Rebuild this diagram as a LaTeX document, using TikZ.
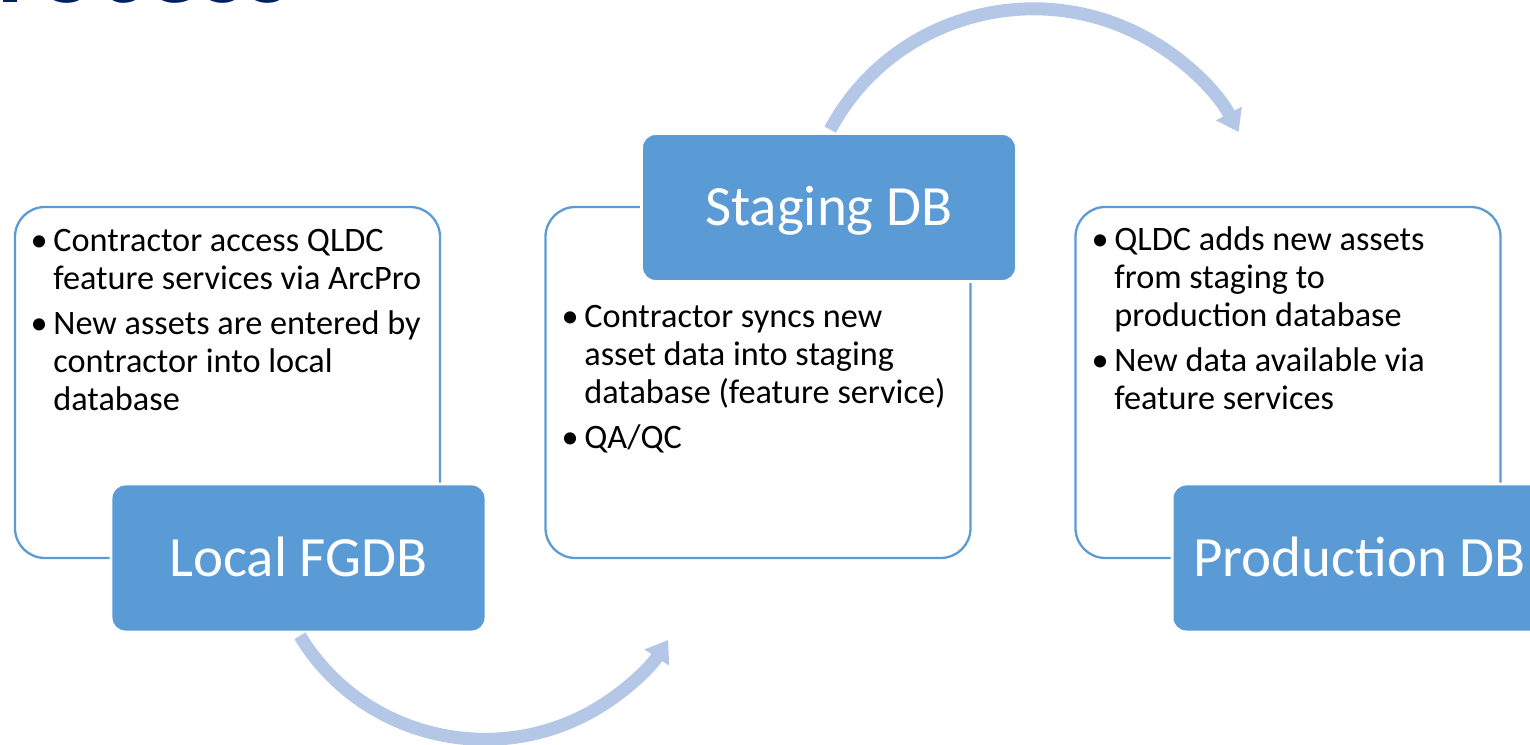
\documentclass[tikz,border=0pt]{standalone}
\usepackage{fontspec}
\setmainfont{Carlito}
\usetikzlibrary{arrows.meta}
\definecolor{boxblue}{HTML}{5B9BD5}
\definecolor{arrowblue}{HTML}{B4C7E7}
\definecolor{titlenavy}{HTML}{002060}
\newcommand{\bulmark}{\makebox[13pt][l]{\textbullet}}
\newcommand{\bulgap}{\hspace*{13pt}}
\tikzset{
    outerbox/.style = {draw = boxblue, line width = 1.3pt, rounded corners = 17pt,
        minimum width = 85mm, minimum height = 70.2mm},
    dbbox/.style = {fill = boxblue, draw = white, line width = 1.7pt, rounded corners = 8pt,
        minimum width = 75mm, minimum height = 29.6mm, text = white,
        text height = 7.4mm, text depth = 0pt, font = \fontsize{32.4}{38}\selectfont},
    textblock/.style = {anchor = north west, inner sep = 0pt, align = left,
        font = \fontsize{19.5}{21.6}\selectfont},
    flowarrow/.style = {draw = arrowblue, line width = 2.6mm,
        -{Triangle[width = 5.6mm, length = 4.2mm]}}
}
\begin{document}
\begin{tikzpicture}[x = 0.2mm, y = 0.2mm]
        \useasboundingbox (0, 0) rectangle (1530, 744);
        \clip (0, 0) rectangle (1530, 744);
        \node [anchor = base west, inner sep = 0pt, text = titlenavy,
            font = \fontsize{64.3}{70}\selectfont\bfseries] (title) at (-63, 741.5) {Process};
        \node [outerbox] (localbox) at (227.5, 361.5) {};
        \node [outerbox] (stagingbox) at (758, 361.5) {};
        \node [outerbox] (prodbox) at (1288, 361.5) {};
        \node [textblock] (localtext) at (30.2, 515) {%
            \bulmark Contractor access QLDC\\\bulgap feature services via ArcPro\\[4pt]%
            \bulmark New assets are entered by\\\bulgap contractor into local\\\bulgap database};
        \node [textblock] (stagingtext) at (561.2, 439) {%
            \bulmark Contractor syncs new\\\bulgap asset data into staging\\\bulgap database (feature service)\\[4pt]%
            \bulmark QA/QC};
        \node [textblock] (prodtext) at (1091.2, 517.5) {%
            \bulmark QLDC adds new assets\\\bulgap from staging to\\\bulgap production database\\[4pt]%
            \bulmark New data available via\\\bulgap feature services};
        \node [dbbox] (local) at (298.5, 186) {Local FGDB};
        \node [dbbox] (staging) at (829, 536.5) {Staging DB};
        \node [dbbox] (prod) at (1359.5, 186) {Production DB};
        \draw [flowarrow, shorten <= 1.5pt] (local.south) arc [start angle = 211, end angle = 327, radius = 218]
            coordinate (stagingin);
        \draw [flowarrow, shorten <= 1.5pt] (staging.north) arc [start angle = 152, end angle = 28, radius = 232]
            coordinate (prodin);
    \end{tikzpicture}
\end{document}
